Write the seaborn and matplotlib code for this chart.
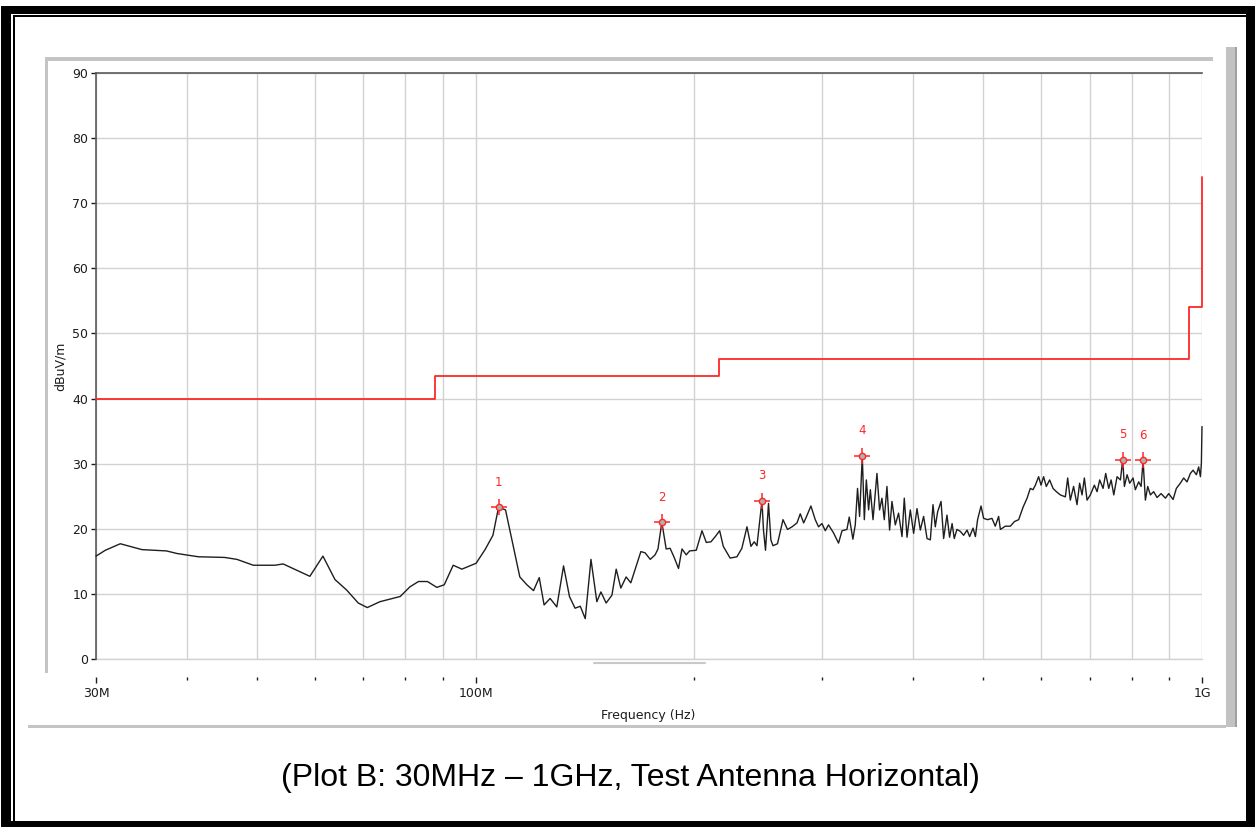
import matplotlib
matplotlib.use("Agg")
import matplotlib.pyplot as plt
from matplotlib.patches import Rectangle
from matplotlib.lines import Line2D
import seaborn as sns
import pandas as pd

W, H = 1255, 827

freq_mhz = [
    30.0, 30.9, 32.4, 34.7, 37.5, 38.8, 41.5, 45.1, 46.9, 49.4,
    52.9, 54.3, 59.1, 61.6, 64.0, 66.4, 68.9, 70.9, 73.8, 78.7,
    81.2, 83.4, 85.8, 88.4, 90.5, 93.1, 95.7, 100.1, 103.0, 105.6,
    107.5, 109.9, 112.4, 115.0, 117.6, 120.1, 122.3, 124.2, 126.6, 129.3,
    132.1, 134.6, 137.0, 139.3, 141.5, 144.1, 146.8, 148.7, 151.2, 154.0,
    156.1, 158.4, 161.1, 163.5, 168.8, 171.1, 173.9, 176.6, 178.2, 180.4,
    182.9, 185.2, 187.6, 190.2, 192.3, 194.9, 197.0, 201.2, 204.9, 207.7,
    210.8, 213.7, 216.7, 219.2, 224.0, 228.9, 232.5, 236.3, 239.3, 241.8,
    243.9, 247.8, 249.0, 250.6, 253.0, 254.9, 256.6, 260.3, 264.9, 268.7,
    272.6, 276.9, 279.8, 282.8, 285.2, 289.4, 293.4, 296.5, 299.7, 302.9,
    306.0, 310.8, 315.9, 319.4, 324.4, 326.8, 330.6, 333.1, 335.5, 337.7,
    340.6, 342.8, 345.0, 347.5, 349.4, 352.4, 356.8, 359.8, 362.5, 365.2,
    368.3, 371.4, 374.2, 378.2, 382.1, 386.3, 389.1, 392.5, 396.6, 400.8,
    405.1, 409.4, 413.7, 418.2, 422.6, 426.2, 429.3, 432.5, 437.2, 440.8,
    445.5, 449.2, 452.8, 455.9, 459.8, 464.8, 469.6, 474.8, 478.7, 483.9,
    487.5, 490.9, 496.3, 500.4, 506.8, 513.8, 519.2, 524.8, 527.7, 536.1,
    544.7, 551.6, 559.2, 567.0, 574.3, 580.2, 585.2, 589.6, 595.7, 600.3,
    605.2, 610.4, 616.9, 623.6, 630.2, 638.2, 648.4, 653.2, 658.7, 665.6,
    672.8, 678.4, 683.6, 688.7, 694.6, 701.8, 710.9, 717.0, 723.0, 730.8,
    736.9, 744.0, 749.7, 756.0, 763.9, 772.1, 777.7, 781.9, 788.6, 795.1,
    803.7, 809.5, 818.1, 824.4, 829.6, 835.7, 841.9, 849.1, 857.9, 867.2,
    878.3, 890.6, 899.8, 912.4, 921.9, 933.6, 943.5, 953.6, 963.8, 972.1,
    982.4, 989.5, 995.0, 998.0, 1000.0,
]
level_dbuv = [
    15.8, 16.7, 17.7, 16.8, 16.6, 16.2, 15.7, 15.6, 15.3, 14.4,
    14.4, 14.6, 12.7, 15.8, 12.2, 10.6, 8.6, 7.9, 8.8, 9.6,
    11.1, 11.9, 11.9, 11.0, 11.4, 14.4, 13.8, 14.7, 16.8, 19.0,
    23.3, 22.9, 17.8, 12.6, 11.4, 10.5, 12.5, 8.3, 9.3, 8.0,
    14.3, 9.6, 7.8, 8.1, 6.2, 15.3, 8.8, 10.3, 8.6, 9.8,
    13.8, 10.9, 12.6, 11.7, 16.5, 16.3, 15.3, 16.0, 16.9, 21.0,
    16.9, 17.0, 15.6, 13.9, 16.9, 16.0, 16.6, 16.7, 19.7, 17.9,
    18.0, 18.8, 19.7, 17.3, 15.5, 15.7, 17.0, 20.3, 17.3, 18.0,
    17.4, 24.3, 19.8, 16.7, 23.9, 18.3, 17.4, 17.7, 21.4, 19.9,
    20.3, 20.9, 22.3, 20.9, 21.8, 23.5, 21.4, 20.3, 20.8, 19.7,
    20.6, 19.4, 17.8, 19.7, 19.9, 21.8, 18.4, 20.6, 26.2, 21.9,
    31.2, 21.4, 27.5, 22.9, 26.0, 21.4, 28.5, 22.9, 24.7, 21.4,
    26.5, 19.8, 24.2, 20.6, 22.4, 18.8, 24.7, 18.7, 22.9, 19.3,
    23.1, 19.8, 21.9, 18.5, 18.3, 23.7, 20.3, 22.6, 24.2, 18.5,
    22.1, 18.7, 20.8, 18.5, 19.9, 19.6, 19.0, 19.8, 18.8, 20.1,
    18.8, 21.4, 23.5, 21.6, 21.4, 21.6, 20.4, 21.9, 19.9, 20.4,
    20.4, 21.1, 21.4, 23.3, 24.7, 26.2, 26.0, 26.7, 28.0, 26.7,
    28.0, 26.5, 27.5, 26.2, 25.7, 25.2, 24.9, 27.8, 24.4, 26.5,
    23.7, 27.0, 25.2, 27.8, 24.4, 25.2, 26.7, 25.7, 27.5, 26.2,
    28.5, 26.2, 27.5, 25.2, 28.0, 27.5, 30.6, 26.5, 28.3, 27.0,
    27.8, 26.0, 27.2, 26.5, 30.5, 24.4, 26.5, 25.2, 25.7, 24.8,
    25.4, 24.7, 25.4, 24.5, 26.2, 27.0, 27.8, 27.2, 28.5, 29.0,
    28.3, 29.5, 28.0, 30.0, 35.7,
]

# FCC class B style limit line
limit_freq = [30, 88, 88, 216, 216, 960, 960, 1000, 1000]
limit_level = [40, 40, 43.5, 43.5, 46, 46, 54, 54, 74]

# peak markers
marker_freq = [107.5, 180.4, 247.8, 340.6, 777.7, 829.6]
marker_level = [23.3, 21.0, 24.3, 31.2, 30.6, 30.5]
marker_label = ["1", "2", "3", "4", "5", "6"]

x_major = [30, 100, 1000]
x_major_labels = ["30M", "100M", "1G"]
x_minor = [40, 50, 60, 70, 80, 90, 200, 300, 400, 500, 600, 700, 800, 900]
y_ticks = [0, 10, 20, 30, 40, 50, 60, 70, 80, 90]

trace = pd.DataFrame({"freq": freq_mhz, "level": level_dbuv})
limit = pd.DataFrame({"freq": limit_freq, "level": limit_level})

sns.set_style("white")
plt.rcParams["font.family"] = ["DejaVu Sans"]

RED = "#ff2626"
TXT = "#1c1c1c"
GRID = "#d2d2d2"

fig = plt.figure(figsize=(W / 100, H / 100), dpi=100)


def box(x0, y0, x1, y1, color, z):
    # rectangle given in pixel coords (origin top-left)
    fig.add_artist(Rectangle((x0 / W, 1 - y1 / H), (x1 - x0) / W, (y1 - y0) / H,
                             transform=fig.transFigure, facecolor=color,
                             edgecolor="none", zorder=z))


# picture frame
box(1, 6, W, H, "black", -10)
box(11, 14, 1246, 821, "white", -9)
box(12.7, 15, 1246, 821, "black", -8)
box(14.7, 17, 1246, 821, "white", -7)
# chart panel borders
box(45, 57, 1213, 61, "#c4c4c4", -6)
box(45, 57, 48, 673, "#c4c4c4", -6)
box(1226, 47, 1237, 727, "#c2c2c2", -6)
box(1235, 47, 1237, 727, "#a0a0a0", -6)
box(28, 725, 1226, 728, "#c4c4c4", -6)
fig.add_artist(Line2D([594 / W, 705 / W], [1 - 663 / H] * 2, color="#c8c8c8", lw=1.5))

ax = fig.add_axes([96 / W, 1 - 659 / H, 1106 / W, 586 / H])
ax.set_facecolor("white")

sns.lineplot(data=trace, x="freq", y="level", ax=ax, color="#1e1e1e",
             linewidth=1.0, estimator=None, sort=False, clip_on=False, zorder=3)
sns.lineplot(data=limit, x="freq", y="level", ax=ax, color=RED,
             linewidth=1.3, estimator=None, sort=False, clip_on=False, zorder=3)

ax.plot(marker_freq, marker_level, "+", ms=12, mew=1.1, color=RED, zorder=4, clip_on=False)
ax.plot(marker_freq, marker_level, "o", ms=4.5, mfc="#b0b0b0", mew=1.0, color=RED, zorder=4)
for f, lv, lb in zip(marker_freq, marker_level, marker_label):
    ax.annotate(lb, (f, lv), xytext=(0, 18), textcoords="offset points",
                ha="center", va="center", color=RED, fontsize=8.5)

ax.set_xscale("log")
ax.set_xlim(30, 1000)
ax.set_ylim(0, 90)
ax.set_xticks(x_major)
ax.set_xticklabels(x_major_labels)
ax.set_xticks(x_minor, minor=True)
ax.set_xticklabels([], minor=True)
ax.set_yticks(y_ticks)
ax.set_xlabel("")
ax.set_ylabel("")

ax.set_axisbelow(True)
ax.xaxis.grid(True, which="both", color=GRID, lw=1)
ax.yaxis.grid(True, which="major", color=GRID, lw=1)
ax.axhline(0, color=GRID, lw=1, clip_on=False, zorder=0.5)

for side in ["left", "top"]:
    ax.spines[side].set_color("#5a5a5a")
    ax.spines[side].set_linewidth(1.2)
ax.spines["right"].set_visible(False)
ax.spines["bottom"].set_position(("outward", 13))
ax.spines["bottom"].set_visible(False)

ax.tick_params(bottom=True, left=True, which="both")
ax.tick_params(axis="x", which="major", direction="out", length=4.5, width=1,
               pad=3, labelsize=9, colors=TXT)
ax.tick_params(axis="x", which="minor", direction="out", length=2.5, width=1, colors=TXT)
ax.tick_params(axis="y", direction="out", length=3.5, width=1, pad=2,
               labelsize=9, colors=TXT)

fig.text(648 / W, 1 - 715 / H, "Frequency (Hz)", ha="center", va="center",
         fontsize=9, color=TXT)
fig.text(60 / W, 1 - 366 / H, "dBuV/m", ha="center", va="center",
         rotation=90, fontsize=9, color=TXT)
fig.text(630 / W, 1 - 778 / H, "(Plot B: 30MHz \u2013 1GHz, Test Antenna Horizontal)",
         ha="center", va="center", fontsize=23, family="Liberation Sans", color="black")

fig.savefig("out.png", dpi=100)
